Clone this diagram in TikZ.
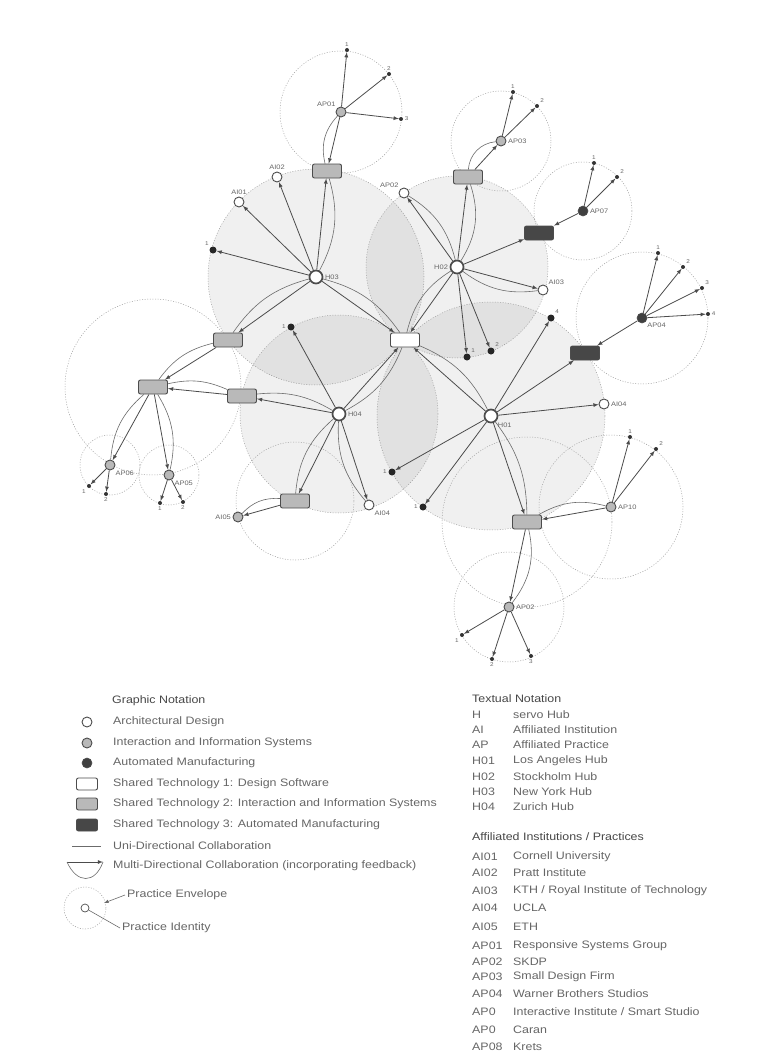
\documentclass[tikz,border=0pt]{standalone}
\usepackage{fontspec}
\setmainfont{Liberation Sans}[FakeStretch=1.15]
\usepackage{xcolor}
\usetikzlibrary{arrows}
\usetikzlibrary{calc}
\usetikzlibrary{backgrounds}

\definecolor{ink}{gray}{0.30}
\definecolor{inklight}{gray}{0.42}
\definecolor{txt}{gray}{0.40}

\pgfdeclarelayer{zones}
\pgfdeclarelayer{links}
\pgfsetlayers{zones,links,main}

\tikzset{
  hub/.style={circle,draw=ink,line width=1.7pt,fill=white,minimum size=13pt,inner sep=0pt},
  arch/.style={circle,draw=ink,line width=0.9pt,fill=white,minimum size=10pt,inner sep=0pt},
  inter/.style={circle,draw=ink,line width=0.9pt,fill=gray!55,minimum size=10pt,inner sep=0pt},
  manuf/.style={circle,draw=ink,line width=0.6pt,fill=black!75,minimum size=10pt,inner sep=0pt},
  dot/.style={circle,fill=black!85,minimum size=7pt,inner sep=0pt},
  tipdot/.style={circle,fill=black!80,minimum size=4pt,inner sep=0pt},
  techbox/.style={rectangle,rounded corners=2pt,draw=ink,line width=0.9pt,minimum width=29pt,minimum height=14pt,inner sep=0pt},
  techone/.style={techbox,fill=white},
  techtwo/.style={techbox,fill=gray!55},
  techthree/.style={techbox,fill=black!72},
  tag/.style={font=\fontsize{6.5}{7}\selectfont,text=txt,inner sep=1.5pt},
  num/.style={font=\fontsize{5.5}{6}\selectfont,text=txt,inner sep=1.5pt},
  uni/.style={draw=ink,line width=0.8pt,-latex},
  feedback/.style={draw=inklight,line width=0.6pt},
  envelope/.style={draw=gray!75,line width=0.5pt,dash pattern=on 1pt off 1.6pt},
  hubzone/.style={envelope,fill=black,fill opacity=0.06},
  legend/.style={font=\fontsize{10.8}{12}\selectfont,text=txt,anchor=west,inner sep=0pt},
  heading/.style={legend,text=black!72}
}

% straight link with a feedback curve running back
\newcommand{\multilink}[3]{%
  \draw[uni] (#1) -- (#2);
  \draw[feedback] (#2) to[#3] (#1);}

\begin{document}
\begin{tikzpicture}[x=1pt,y=-1pt]

\useasboundingbox (0,0) rectangle (759,1062);

% hubs
\node[hub,label={[tag]right:H03}] (h03) at (316,277) {};
\node[hub,label={[tag]left:H02}] (h02) at (457,267) {};
\node[hub,label={[tag]below right:H01}] (h01) at (491,416) {};
\node[hub,label={[tag]right:H04}] (h04) at (339,414) {};

% shared technologies
\node[techone] (st1) at (405,340) {};
\node[techtwo] (stA) at (327,171) {};
\node[techtwo] (stB) at (468,177) {};
\node[techtwo] (stC) at (228,340) {};
\node[techtwo] (stD) at (242,396) {};
\node[techtwo] (stE) at (153,387) {};
\node[techtwo] (stF) at (295,501) {};
\node[techtwo] (stG) at (527,522) {};
\node[techthree] (stH) at (539,233) {};
\node[techthree] (stI) at (585,353) {};

% institutions and practices
\node[inter,label={[tag]above left:AP01}] (ap01) at (341,112) {};
\node[arch,label={[tag]above:AI01}] (ai01) at (239,202) {};
\node[arch,label={[tag]above:AI02}] (ai02) at (277,177) {};
\node[arch,label={[tag]above left:AP02}] (ap02) at (404,193) {};
\node[inter,label={[tag]right:AP03}] (ap03) at (501,141) {};
\node[manuf,label={[tag]right:AP07}] (ap07) at (583,211) {};
\node[arch,label={[tag]above right:AI03}] (ai03) at (543,290) {};
\node[manuf,label={[tag]below right:AP04}] (ap04) at (642,318) {};
\node[arch,label={[tag]right:AI04}] (ai04) at (604,404) {};
\node[arch,label={[tag]below right:AI04}] (ai04b) at (369,505) {};
\node[inter,label={[tag]right:AP10}] (ap10) at (611,507) {};
\node[inter,label={[tag]right:AP02}] (ap02b) at (509,607) {};
\node[inter,label={[tag]below right:AP06}] (ap06) at (110,465) {};
\node[inter,label={[tag]below right:AP05}] (ap05) at (169,475) {};
\node[inter,label={[tag]left:AI05}] (ai05) at (238,517) {};

% manufacturing outputs of the hubs
\node[dot,label={[num]above left:1}] (d1) at (213,250) {};
\node[dot,label={[num]left:1}] (d2) at (291,327) {};
\node[dot,label={[num]above right:1}] (d3) at (467,357) {};
\node[dot,label={[num]above right:2}] (d4) at (491,351) {};
\node[dot,label={[num]above right:4}] (d5) at (551,318) {};
\node[dot,label={[num]left:1}] (d6) at (392,472) {};
\node[dot,label={[num]left:1}] (d7) at (423,507) {};

% outputs on the practice envelopes
\foreach \src/\n/\x/\y/\side in {ap01/1/347/50/above, ap01/2/389/74/above, ap01/3/401/119/right,
    ap03/1/513/92/above, ap03/2/537/106/above right,
    ap07/1/594/163/above, ap07/2/617/177/above right,
    ap04/1/658/253/above, ap04/2/683/267/above right, ap04/3/702/288/above right, ap04/4/708/314/right,
    ap10/1/630/437/above, ap10/2/656/449/above right,
    ap02b/1/462/635/below left, ap02b/2/492/659/below, ap02b/3/531/656/below,
    ap06/1/89/486/below left, ap06/2/106/494/below,
    ap05/1/160/503/below, ap05/2/183/502/below}{
  \node[tipdot,label={[num]\side:\n}] (\src-\n) at (\x,\y) {};
  \begin{pgfonlayer}{links}
    \draw[uni] (\src) -- (\src-\n);
  \end{pgfonlayer}
}

\begin{pgfonlayer}{zones}
  \fill[white] (0,0) rectangle (759,1062);
  \draw[hubzone] (h03) circle (108pt);
  \draw[hubzone] (h02) circle (91pt);
  \draw[hubzone] (h01) circle (114pt);
  \draw[hubzone] (h04) circle (99pt);
  \draw[envelope] (ap01) circle (61pt);
  \draw[envelope] (ap03) circle (50pt);
  \draw[envelope] (ap07) circle (49pt);
  \draw[envelope] (ap04) circle (66pt);
  \draw[envelope] (ap10) circle (72pt);
  \draw[envelope] (ap02b) circle (55pt);
  \draw[envelope] (ap06) circle (30pt);
  \draw[envelope] (ap05) circle (30pt);
  \draw[envelope] (stE) circle (88pt);
  \draw[envelope] (stF) circle (59pt);
  \draw[envelope] (stG) circle (85pt);
\end{pgfonlayer}

\begin{pgfonlayer}{links}
  % H03 New York
  \draw[uni] (h03) -- (ai01);
  \draw[uni] (h03) -- (ai02);
  \draw[uni] (h03) -- (d1);
  \multilink{h03}{stA}{bend left=22}
  \multilink{ap01}{stA}{bend left=28}
  \multilink{h03}{stC}{bend left=20}
  \multilink{h03}{st1}{bend right=20}
  % H02 Stockholm
  \multilink{h02}{ap02}{bend left=22}
  \multilink{h02}{stB}{bend left=25}
  \multilink{stB}{ap03}{bend right=40}
  \multilink{h02}{ai03}{bend left=22}
  \multilink{h02}{st1}{bend left=22}
  \draw[uni] (h02) -- (stH);
  \draw[uni] (h02) -- (d3);
  \draw[uni] (h02) -- (d4);
  \draw[uni] (ap07) -- (stH);
  % H01 Los Angeles
  \multilink{h01}{st1}{bend left=20}
  \multilink{h01}{stG}{bend right=18}
  \multilink{ap10}{stG}{bend left=22}
  \multilink{stG}{ap02b}{bend right=25}
  \draw[uni] (h01) -- (d5);
  \draw[uni] (h01) -- (stI);
  \draw[uni] (h01) -- (ai04);
  \draw[uni] (h01) -- (d6);
  \draw[uni] (h01) -- (d7);
  \draw[uni] (ap04) -- (stI);
  % H04 Zurich
  \draw[uni] (h04) -- (d2);
  \multilink{h04}{st1}{bend left=20}
  \multilink{h04}{stD}{bend left=18}
  \multilink{h04}{stF}{bend left=22}
  \multilink{h04}{ai04b}{bend left=22}
  \multilink{stF}{ai05}{bend left=25}
  % western practices
  \multilink{stC}{stE}{bend left=20}
  \multilink{stD}{stE}{bend left=18}
  \multilink{stE}{ap06}{bend left=22}
  \multilink{stE}{ap05}{bend right=22}
\end{pgfonlayer}

% legend: graphic notation
\node[heading] (gnHead) at (112,701) {Graphic Notation};
\node[arch] (lgArch) at (87,722) {};
\node[legend] (lgArchTxt) at (113,722) {Architectural Design};
\node[inter] (lgInter) at (87,743) {};
\node[legend] (lgInterTxt) at (113,743) {Interaction and Information Systems};
\node[manuf] (lgManuf) at (87,763) {};
\node[legend] (lgManufTxt) at (113,763) {Automated Manufacturing};
\node[techone,minimum width=21pt,minimum height=12pt] (lgOne) at (87,784) {};
\node[legend] (lgOneTxt) at (113,784) {Shared Technology 1: Design Software};
\node[techtwo,minimum width=21pt,minimum height=12pt] (lgTwo) at (87,804) {};
\node[legend] (lgTwoTxt) at (113,804) {Shared Technology 2: Interaction and Information Systems};
\node[techthree,minimum width=21pt,minimum height=12pt] (lgThree) at (87,825) {};
\node[legend] (lgThreeTxt) at (113,825) {Shared Technology 3: Automated Manufacturing};
\coordinate (lgU1) at (72,846);
\coordinate (lgU2) at (101,846);
\draw[feedback] (lgU1) -- (lgU2);
\node[legend] (lgUniTxt) at (113,846) {Uni-Directional Collaboration};
\coordinate (lgM1) at (67,862);
\coordinate (lgM2) at (103,862);
\draw[uni] (lgM1) -- (lgM2);
\draw[feedback] (lgM1) .. controls (77,884) and (95,884) .. (lgM2);
\node[legend] (lgMultiTxt) at (113,866) {Multi-Directional Collaboration (incorporating feedback)};
\node[arch,minimum size=8pt,line width=0.7pt] (lgId) at (85,908) {};
\draw[envelope] (lgId) circle (21pt);
\node[legend] (lgEnvTxt) at (127,895) {Practice Envelope};
\coordinate (lgEnvPt) at (104,903);
\draw[feedback,-latex] ([xshift=-2pt]lgEnvTxt.west) -- (lgEnvPt);
\node[legend] (lgIdTxt) at (122,928) {Practice Identity};
\draw[feedback] (lgId) -- ([xshift=-2pt]lgIdTxt.west);

% legend: textual notation
\node[heading] (tnHead) at (472,699) {Textual Notation};
\foreach \code/\desc/\y in {H/servo Hub/715, AI/Affiliated Institution/730, AP/Affiliated Practice/745,
    H01/Los Angeles Hub/761, H02/Stockholm Hub/777, H03/New York Hub/792, H04/Zurich Hub/807,
    AI01/Cornell University/857, AI02/Pratt Institute/873, AI03/{KTH / Royal Institute of Technology}/891,
    AI04/UCLA/908, AI05/ETH/927, AP01/Responsive Systems Group/946, AP02/SKDP/962,
    AP03/Small Design Firm/977, AP04/Warner Brothers Studios/994,
    AP0/{Interactive Institute / Smart Studio}/1012, AP0/Caran/1030, AP08/Krets/1047}{
  \node[legend] (code-\y) at (472,\y) {\code};
  \node[legend] (desc-\y) at (513,\y) {\desc};
}
\node[heading] (aiHead) at (472,837) {Affiliated Institutions / Practices};

\end{tikzpicture}
\end{document}
